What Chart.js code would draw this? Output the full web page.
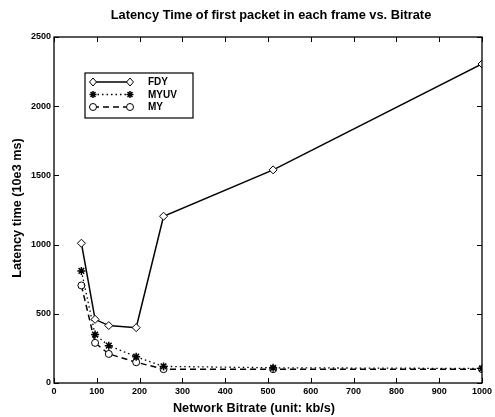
<!DOCTYPE html>
<html>
<head>
<meta charset="utf-8">
<script src="https://cdn.jsdelivr.net/npm/chart.js@4.4.1/dist/chart.umd.min.js"></script>
<style>
  html, body { margin: 0; padding: 0; background: #fff; }
  #wrap { width: 495px; height: 417px; }
</style>
</head>
<body>
<div id="wrap"><canvas id="latency" width="495" height="417"></canvas></div>
<script>
// bitrates (kb/s) and latency values (10e3 ms)
const bitrates = [64, 96, 128, 192, 256, 512, 1000];
const fdy  = [1010, 460, 415, 400, 1205, 1540, 2305];
const myuv = [810, 350, 270, 190, 120, 110, 105];
const my   = [705, 290, 210, 150, 100, 100, 100];
const xTicks = [0, 100, 200, 300, 400, 500, 600, 700, 800, 900, 1000];
const yTicks = [0, 500, 1000, 1500, 2000, 2500];

const FONT = '"Liberation Sans", Arial, sans-serif';
const TITLE = 'Latency Time of first packet in each frame vs. Bitrate';
const X_TITLE = 'Network Bitrate (unit: kb/s)';
const Y_TITLE = 'Latency time (10e3 ms)';

function pts(ys){ return bitrates.map((x, i) => ({ x: x, y: ys[i] })); }

// draw a marker by style name
function marker(ctx, style, x, y){
    ctx.save();
    ctx.setLineDash([]);
    ctx.lineWidth = 1;
    ctx.strokeStyle = '#000';
    ctx.fillStyle = '#fff';
    ctx.beginPath();
    if(style === 'rectRot'){
        ctx.moveTo(x, y - 4); ctx.lineTo(x + 3.5, y); ctx.lineTo(x, y + 4); ctx.lineTo(x - 3.5, y); ctx.closePath();
        ctx.fill(); ctx.stroke();
    } else if(style === 'circle'){
        ctx.arc(x, y, 3.5, 0, Math.PI * 2);
        ctx.fill(); ctx.stroke();
    } else {
        for(let a = 0; a < 4; a++){
            const t = a * Math.PI / 4;
            ctx.moveTo(x - Math.cos(t) * 3.5, y - Math.sin(t) * 3.5);
            ctx.lineTo(x + Math.cos(t) * 3.5, y + Math.sin(t) * 3.5);
        }
        ctx.lineWidth = 1.5;
        ctx.stroke();
    }
    ctx.restore();
}

// MATLAB-style box with inward ticks, titles, and legend inside the plot
const boxPlugin = {
    id: 'boxPlugin',
    afterDatasetsDraw(chart){
        const ctx = chart.ctx;
        const a = chart.chartArea;
        const xs = chart.scales.x, ys = chart.scales.y;
        ctx.save();
        ctx.strokeStyle = '#000';
        ctx.lineWidth = 1.3;
        ctx.strokeRect(a.left, a.top, a.right - a.left, a.bottom - a.top);
        ctx.lineWidth = 1;
        ctx.beginPath();
        xTicks.forEach(v => {
            const px = Math.round(xs.getPixelForValue(v)) + 0.5;
            ctx.moveTo(px, a.bottom); ctx.lineTo(px, a.bottom - 5);
            ctx.moveTo(px, a.top); ctx.lineTo(px, a.top + 5);
        });
        yTicks.forEach(v => {
            const py = Math.round(ys.getPixelForValue(v)) + 0.5;
            ctx.moveTo(a.left, py); ctx.lineTo(a.left + 5, py);
            ctx.moveTo(a.right, py); ctx.lineTo(a.right - 5, py);
        });
        ctx.stroke();

        // titles
        ctx.fillStyle = '#000';
        ctx.textAlign = 'center';
        ctx.textBaseline = 'middle';
        ctx.font = 'bold 12.8px ' + FONT;
        ctx.fillText(TITLE, (a.left + a.right) / 2 + 3, 15);
        ctx.font = 'bold 12.7px ' + FONT;
        ctx.fillText(X_TITLE, (a.left + a.right) / 2 - 14, 408);
        ctx.save();
        ctx.translate(17, (a.top + a.bottom) / 2 - 2);
        ctx.rotate(-Math.PI / 2);
        ctx.fillText(Y_TITLE, 0, 0);
        ctx.restore();

        // legend box
        const lx = a.left + 31, ly = a.top + 36, lw = 108, lh = 45;
        ctx.fillStyle = '#fff';
        ctx.fillRect(lx, ly, lw, lh);
        ctx.lineWidth = 1.2;
        ctx.strokeRect(lx, ly, lw, lh);
        ctx.textAlign = 'left';
        chart.data.datasets.forEach((ds, i) => {
            const y = ly + 9 + i * 12.5;
            ctx.save();
            ctx.lineWidth = ds.borderWidth;
            ctx.setLineDash(ds.borderDash || []);
            ctx.beginPath();
            ctx.moveTo(lx + 8, y); ctx.lineTo(lx + 45, y);
            ctx.stroke();
            ctx.restore();
            marker(ctx, ds.pointStyle, lx + 8, y);
            marker(ctx, ds.pointStyle, lx + 45, y);
            ctx.fillStyle = '#000';
            ctx.font = 'bold 10px ' + FONT;
            ctx.fillText(ds.label, lx + 63, y + 0.5);
        });
        ctx.restore();
    }
};

function initChart(){
    const canvas = document.getElementById('latency');
    if(!canvas) return;
    if(typeof Chart === 'undefined'){ setTimeout(initChart, 50); return; }

    new Chart(canvas.getContext('2d'), {
        type: 'scatter',
        data: {
            datasets: [
                { label: 'FDY', data: pts(fdy), showLine: true, borderColor: '#000', borderWidth: 1.5,
                  pointStyle: 'rectRot', pointRadius: 4, pointBackgroundColor: '#fff', pointBorderColor: '#000', pointBorderWidth: 1 },
                { label: 'MYUV', data: pts(myuv), showLine: true, borderColor: '#000', borderWidth: 1.3, borderDash: [1.5, 3],
                  pointStyle: 'star', pointRadius: 4, pointBackgroundColor: '#000', pointBorderColor: '#000', pointBorderWidth: 1.5 },
                { label: 'MY', data: pts(my), showLine: true, borderColor: '#000', borderWidth: 1.5, borderDash: [6, 4],
                  pointStyle: 'circle', pointRadius: 3.5, pointBackgroundColor: '#fff', pointBorderColor: '#000', pointBorderWidth: 1 }
            ]
        },
        options: {
            responsive: false,
            animation: false,
            layout: { padding: { left: 0, right: 12, top: 37, bottom: 0 } },
            plugins: {
                legend: { display: false },
                tooltip: { enabled: false },
                title: { display: false }
            },
            scales: {
                x: {
                    type: 'linear', min: 0, max: 1000,
                    afterBuildTicks: s => { s.ticks = xTicks.map(v => ({ value: v })); },
                    afterFit: s => { s.height = 34; },
                    grid: { display: false, drawTicks: false },
                    border: { display: false },
                    ticks: { color: '#000', padding: 3, maxRotation: 0, callback: v => String(v),
                             font: { family: FONT, size: 9, weight: 'bold' } },
                    title: { display: false }
                },
                y: {
                    type: 'linear', min: 0, max: 2500,
                    afterBuildTicks: s => { s.ticks = yTicks.map(v => ({ value: v })); },
                    afterFit: s => { s.width = 54; },
                    grid: { display: false, drawTicks: false },
                    border: { display: false },
                    ticks: { color: '#000', padding: 3, callback: v => String(v),
                             font: { family: FONT, size: 9, weight: 'bold' } },
                    title: { display: false }
                }
            }
        },
        plugins: [boxPlugin]
    });
}

if(document.readyState === 'loading'){
    document.addEventListener('DOMContentLoaded', initChart);
} else {
    initChart();
}
</script>
</body>
</html>
